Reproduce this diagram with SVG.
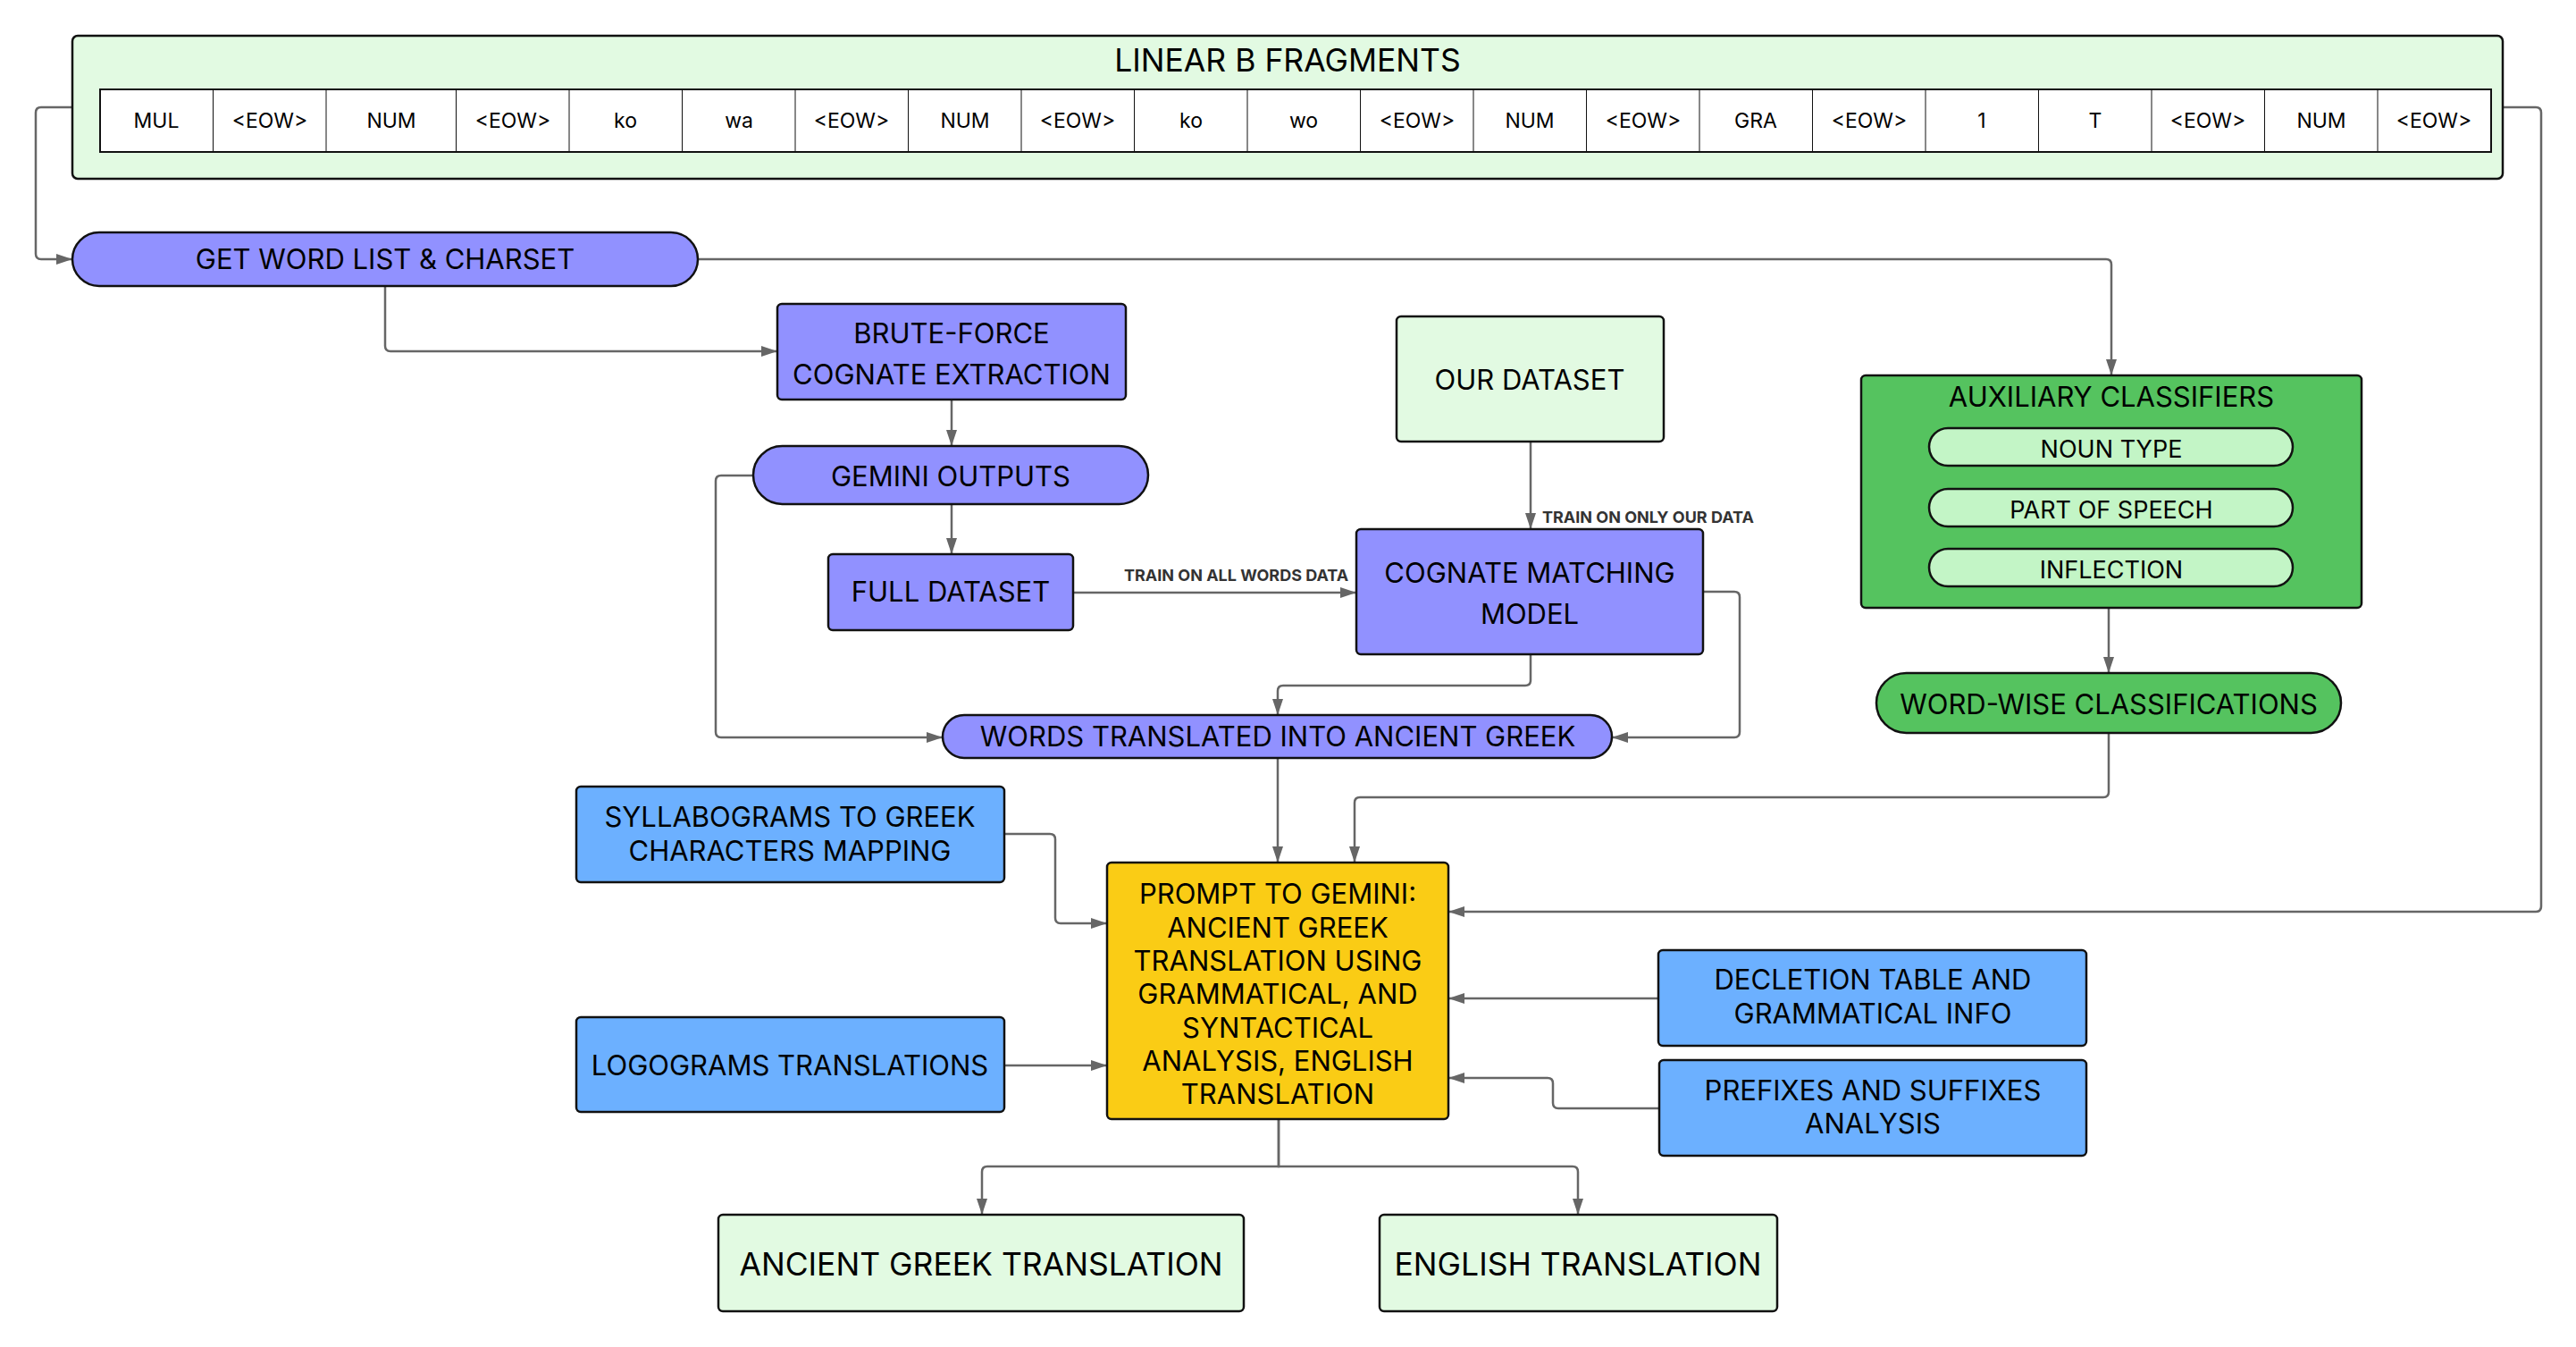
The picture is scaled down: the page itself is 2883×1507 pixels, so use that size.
<svg xmlns="http://www.w3.org/2000/svg" width="2883" height="1507" viewBox="0 0 2883 1507">
<defs>
<style>
text{font-family:Inter,"Noto Sans","Liberation Sans",sans-serif;fill:#000;text-anchor:middle}
.box{stroke:#111;stroke-width:2.5}
.purple{fill:#9191FF}
.lgreen{fill:#E2FAE2}
.blue{fill:#6CB0FF}
.yellow{fill:#FACC15}
.green{fill:#55C35F}
.pill{fill:#C3F5C6;stroke:#111;stroke-width:2.5}
.cell{fill:#fff;stroke:#111;stroke-width:1}
.lbl{font-size:31px}
.cellt{font-size:23px}
.edge{fill:none;stroke:#666;stroke-width:2.5;marker-end:url(#arr)}
.elabel{font-size:18px;font-weight:700;fill:#333;text-anchor:start}
</style>
<marker id="arr" markerUnits="userSpaceOnUse" markerWidth="18" markerHeight="12" refX="18" refY="6" orient="auto">
<path d="M0,0 L18,6 L0,12 z" fill="#666"/>
</marker>
</defs>
<rect width="2883" height="1507" fill="#fff"/>

<g id="connectors">
<path class="edge" d="M81,120 H46 Q40,120 40,126 V284 Q40,290 46,290 H81"/>
<path class="edge" d="M2801,120 H2838 Q2844,120 2844,126 V1014 Q2844,1020 2838,1020 H1621"/>
<path class="edge" d="M781,290 H2357 Q2363,290 2363,296 V420"/>
<path class="edge" d="M431,320 V387 Q431,393 437,393 H870"/>
<path class="edge" d="M1065,447 V499"/>
<path class="edge" d="M1065,564 V620"/>
<path class="edge" d="M843,532 H807 Q801,532 801,538 V819 Q801,825 807,825 H1055"/>
<path class="edge" d="M1201,663 H1518"/>
<path class="edge" d="M1713,494 V592"/>
<path class="edge" d="M1713,732 V761 Q1713,767 1707,767 H1436 Q1430,767 1430,773 V800"/>
<path class="edge" d="M1906,662 H1941 Q1947,662 1947,668 V819 Q1947,825 1941,825 H1804"/>
<path class="edge" d="M1430,848 V965"/>
<path class="edge" d="M2360,680 V753"/>
<path class="edge" d="M2360,820 V886 Q2360,892 2354,892 H1522 Q1516,892 1516,898 V965"/>
<path class="edge" d="M1124,933 H1175 Q1181,933 1181,939 V1027 Q1181,1033 1187,1033 H1239"/>
<path class="edge" d="M1124,1192 H1239"/>
<path class="edge" d="M1856,1117 H1621"/>
<path class="edge" d="M1857,1240 H1744 Q1738,1240 1738,1234 V1212 Q1738,1206 1732,1206 H1621"/>
<path class="edge" d="M1431,1252 V1305 H1105 Q1099,1305 1099,1311 V1359"/>
<path class="edge" d="M1431,1252 V1305 H1760 Q1766,1305 1766,1311 V1359"/>
<text class="elabel" x="1258" y="650">TRAIN ON ALL WORDS DATA</text>
<text class="elabel" x="1726" y="585">TRAIN ON ONLY OUR DATA</text>
</g>

<g id="linear-b-fragments">
<rect class="box lgreen" x="81" y="40" width="2720" height="160" rx="6"/>
<text x="1441" y="80" style="font-size:35.5px">LINEAR B FRAGMENTS</text>
<rect class="cell" x="112" y="100" width="2676" height="70" style="stroke-width:2"/>
<g class="cell">
<line x1="238.5" y1="100" x2="238.5" y2="170"/>
<line x1="365" y1="100" x2="365" y2="170"/>
<line x1="510.5" y1="100" x2="510.5" y2="170"/>
<line x1="637" y1="100" x2="637" y2="170"/>
<line x1="763.5" y1="100" x2="763.5" y2="170"/>
<line x1="890" y1="100" x2="890" y2="170"/>
<line x1="1016.5" y1="100" x2="1016.5" y2="170"/>
<line x1="1143" y1="100" x2="1143" y2="170"/>
<line x1="1269.5" y1="100" x2="1269.5" y2="170"/>
<line x1="1396" y1="100" x2="1396" y2="170"/>
<line x1="1522.5" y1="100" x2="1522.5" y2="170"/>
<line x1="1649" y1="100" x2="1649" y2="170"/>
<line x1="1775.5" y1="100" x2="1775.5" y2="170"/>
<line x1="1902" y1="100" x2="1902" y2="170"/>
<line x1="2028.5" y1="100" x2="2028.5" y2="170"/>
<line x1="2155" y1="100" x2="2155" y2="170"/>
<line x1="2281.5" y1="100" x2="2281.5" y2="170"/>
<line x1="2408" y1="100" x2="2408" y2="170"/>
<line x1="2534.5" y1="100" x2="2534.5" y2="170"/>
<line x1="2661" y1="100" x2="2661" y2="170"/>
</g>
<g class="cellt">
<text x="175" y="143">MUL</text>
<text x="302" y="143">&lt;EOW&gt;</text>
<text x="438" y="143">NUM</text>
<text x="574" y="143">&lt;EOW&gt;</text>
<text x="700" y="143">ko</text>
<text x="827" y="143">wa</text>
<text x="953" y="143">&lt;EOW&gt;</text>
<text x="1080" y="143">NUM</text>
<text x="1206" y="143">&lt;EOW&gt;</text>
<text x="1333" y="143">ko</text>
<text x="1459" y="143">wo</text>
<text x="1586" y="143">&lt;EOW&gt;</text>
<text x="1712" y="143">NUM</text>
<text x="1839" y="143">&lt;EOW&gt;</text>
<text x="1965" y="143">GRA</text>
<text x="2092" y="143">&lt;EOW&gt;</text>
<text x="2218" y="143">1</text>
<text x="2345" y="143">T</text>
<text x="2471" y="143">&lt;EOW&gt;</text>
<text x="2598" y="143">NUM</text>
<text x="2724" y="143">&lt;EOW&gt;</text>
</g>
</g>

<g id="get-word-list">
<rect class="box purple" x="81" y="260" width="700" height="60" rx="30"/>
<text class="lbl" x="431" y="301">GET WORD LIST &amp; CHARSET</text>
</g>

<g id="brute-force">
<rect class="box purple" x="870" y="340" width="390" height="107" rx="5"/>
<text class="lbl" x="1065" y="384">BRUTE-FORCE</text>
<text class="lbl" x="1065" y="430">COGNATE EXTRACTION</text>
</g>

<g id="gemini-outputs">
<rect class="box purple" x="843" y="499" width="442" height="65" rx="32.5"/>
<text class="lbl" x="1064" y="544">GEMINI OUTPUTS</text>
</g>

<g id="full-dataset">
<rect class="box purple" x="927" y="620" width="274" height="85" rx="5"/>
<text class="lbl" x="1064" y="673">FULL DATASET</text>
</g>

<g id="our-dataset">
<rect class="box lgreen" x="1563" y="354" width="299" height="140" rx="5"/>
<text class="lbl" x="1712" y="436">OUR DATASET</text>
</g>

<g id="cognate-matching">
<rect class="box purple" x="1518" y="592" width="388" height="140" rx="5"/>
<text class="lbl" x="1712" y="652">COGNATE MATCHING</text>
<text class="lbl" x="1712" y="698">MODEL</text>
</g>

<g id="words-translated">
<rect class="box purple" x="1055" y="800" width="749" height="48" rx="24"/>
<text class="lbl" x="1430" y="835">WORDS TRANSLATED INTO ANCIENT GREEK</text>
</g>

<g id="auxiliary-classifiers">
<rect class="box green" x="2083" y="420" width="560" height="260" rx="5"/>
<text x="2363" y="455" style="font-size:31px">AUXILIARY CLASSIFIERS</text>
<rect class="pill" x="2159" y="479" width="407" height="42" rx="21"/>
<text x="2363" y="512" style="font-size:27px">NOUN TYPE</text>
<rect class="pill" x="2159" y="547" width="407" height="42" rx="21"/>
<text x="2363" y="580" style="font-size:27px">PART OF SPEECH</text>
<rect class="pill" x="2159" y="614" width="407" height="42" rx="21"/>
<text x="2363" y="647" style="font-size:27px">INFLECTION</text>
</g>

<g id="word-wise">
<rect class="box green" x="2100" y="753" width="520" height="67" rx="33.5"/>
<text class="lbl" x="2360" y="799">WORD-WISE CLASSIFICATIONS</text>
</g>

<g id="syllabograms">
<rect class="box blue" x="645" y="880" width="479" height="107" rx="5"/>
<text class="lbl" x="884" y="925">SYLLABOGRAMS TO GREEK</text>
<text class="lbl" x="884" y="963">CHARACTERS MAPPING</text>
</g>

<g id="logograms">
<rect class="box blue" x="645" y="1138" width="479" height="106" rx="5"/>
<text class="lbl" x="884" y="1203">LOGOGRAMS TRANSLATIONS</text>
</g>

<g id="prompt">
<rect class="box yellow" x="1239" y="965" width="382" height="287" rx="5"/>
<text class="lbl" x="1430" y="1011">PROMPT TO GEMINI:</text>
<text class="lbl" x="1430" y="1049">ANCIENT GREEK</text>
<text class="lbl" x="1430" y="1086">TRANSLATION USING</text>
<text class="lbl" x="1430" y="1123">GRAMMATICAL, AND</text>
<text class="lbl" x="1430" y="1161">SYNTACTICAL</text>
<text class="lbl" x="1430" y="1198">ANALYSIS, ENGLISH</text>
<text class="lbl" x="1430" y="1235">TRANSLATION</text>
</g>

<g id="decletion">
<rect class="box blue" x="1856" y="1063" width="479" height="107" rx="5"/>
<text class="lbl" x="2096" y="1107">DECLETION TABLE AND</text>
<text class="lbl" x="2096" y="1145">GRAMMATICAL INFO</text>
</g>

<g id="prefixes">
<rect class="box blue" x="1857" y="1186" width="478" height="107" rx="5"/>
<text class="lbl" x="2096" y="1231">PREFIXES AND SUFFIXES</text>
<text class="lbl" x="2096" y="1268">ANALYSIS</text>
</g>

<g id="ancient-greek-translation">
<rect class="box lgreen" x="804" y="1359" width="588" height="108" rx="5"/>
<text x="1098" y="1427" style="font-size:35.5px">ANCIENT GREEK TRANSLATION</text>
</g>

<g id="english-translation">
<rect class="box lgreen" x="1544" y="1359" width="445" height="108" rx="5"/>
<text x="1766" y="1427" style="font-size:35.5px">ENGLISH TRANSLATION</text>
</g>
</svg>
